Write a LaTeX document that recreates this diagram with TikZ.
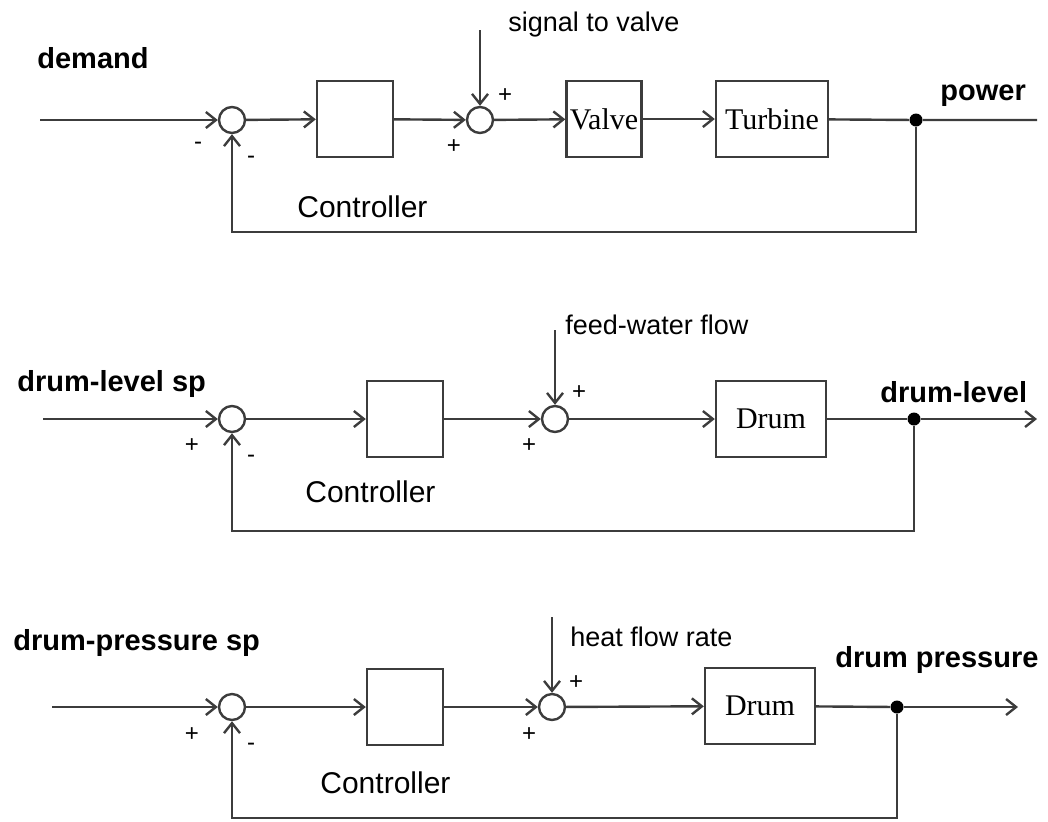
\documentclass[tikz,border=0pt]{standalone}
\usepackage{fontspec}
\setmainfont{Liberation Sans}
\newfontfamily\boxfont{Liberation Serif}
\usetikzlibrary{arrows.meta}
\definecolor{wire}{RGB}{60,60,60}

\begin{document}
\begin{tikzpicture}[x=0.5pt, y=-0.5pt,
    box/.style={draw=wire, line width=1.2pt, minimum width=38pt, minimum height=38pt, inner sep=0pt, font=\boxfont\fontsize{15}{17}\selectfont},
    sum/.style={circle, draw=wire, line width=1.2pt, minimum size=13pt, inner sep=0pt},
    dot/.style={circle, fill=black, minimum size=6.5pt, inner sep=0pt},
    arr/.style={-{Straight Barb[length=5pt,width=8pt]}, line width=1.2pt, color=wire},
    line/.style={line width=1.2pt, color=wire},
    lbl/.style={font=\fontsize{13.5}{16}\selectfont, inner sep=0pt, anchor=west},
    ctl/.style={font=\fontsize{15}{18}\selectfont, inner sep=0pt, anchor=west},
    head/.style={font=\bfseries\fontsize{14.5}{17}\selectfont, inner sep=0pt, anchor=west},
    sgn/.style={font=\fontsize{12}{14}\selectfont, inner sep=0pt}
  ]
    \useasboundingbox (0,0) rectangle (1048,821);

    % power loop
    \coordinate (ina) at (40,120);
    \coordinate (outa) at (1037,120);
    \coordinate (dista) at (480,30);
    \node[sum] (s1a) at (232,120) {};
    \node[box] (ctrla) at (355,119) {};
    \node[sum] (s2a) at (480,120) {};
    \node[box, minimum width=37.5pt] (valve) at (604,119) {Valve};
    \node[box, minimum width=56pt] (turb) at (772,119) {Turbine};
    \node[dot] (pa) at (916,120) {};

    \draw[arr] (ina) -- (s1a);
    \draw[arr] (s1a) -- (ctrla);
    \draw[arr] (ctrla) -- (s2a);
    \draw[arr] (dista) -- (s2a);
    \draw[arr] (s2a) -- (valve);
    \draw[arr] (valve) -- (turb);
    \draw[line] (turb) -- (pa) -- (outa);
    \draw[arr] (pa) -- ++(0,112) -| (s1a);

    \node[head] (dem) at (37,58) {demand};
    \node[head] (pow) at (940,96) {power};
    \node[lbl] (sigv) at (508,25) {signal to valve};
    \node[ctl] (cla) at (297,207) {Controller};
    \node[sgn] at (198,146) {-};
    \node[sgn] at (251,160) {-};
    \node[sgn] at (505,96) {+};
    \node[sgn] at (454,147) {+};

    % drum-level loop
    \coordinate (inb) at (43,419);
    \coordinate (outb) at (1037,419);
    \coordinate (distb) at (555,330);
    \node[sum] (s1b) at (232,419) {};
    \node[box] (ctrlb) at (405,419) {};
    \node[sum] (s2b) at (555,419) {};
    \node[box, minimum width=55pt] (drumb) at (771,419) {Drum};
    \node[dot] (pb) at (914,419) {};

    \draw[arr] (inb) -- (s1b);
    \draw[arr] (s1b) -- (ctrlb);
    \draw[arr] (ctrlb) -- (s2b);
    \draw[arr] (distb) -- (s2b);
    \draw[arr] (s2b) -- (drumb);
    \draw[line] (drumb) -- (pb);
    \draw[arr] (pb) -- (outb);
    \draw[arr] (pb) -- ++(0,112) -| (s1b);

    \node[head] (spb) at (17,384) {drum-level sp};
    \node[head] (lvl) at (880,392) {drum-level};
    \node[lbl] (fwf) at (565,325) {feed-water flow};
    \node[ctl] (clb) at (305,492) {Controller};
    \node[sgn] at (192,446) {+};
    \node[sgn] at (251,459) {-};
    \node[sgn] at (579,393) {+};
    \node[sgn] at (529,446) {+};

    % drum-pressure loop
    \coordinate (inc) at (52,707);
    \coordinate (outc) at (1018,707);
    \coordinate (distc) at (552,617);
    \node[sum] (s1c) at (232,707) {};
    \node[box] (ctrlc) at (405,707) {};
    \node[sum] (s2c) at (552,707) {};
    \node[box, minimum width=55pt] (drumc) at (760,706) {Drum};
    \node[dot] (pc) at (897,707) {};

    \draw[arr] (inc) -- (s1c);
    \draw[arr] (s1c) -- (ctrlc);
    \draw[arr] (ctrlc) -- (s2c);
    \draw[arr] (distc) -- (s2c);
    \draw[arr] (s2c) -- (drumc);
    \draw[line] (drumc) -- (pc);
    \draw[arr] (pc) -- (outc);
    \draw[arr] (pc) -- ++(0,111) -| (s1c);

    \node[head] (spc) at (13,643) {drum-pressure sp};
    \node[head] (prs) at (835,660) {drum pressure};
    \node[lbl] (hfr) at (570,637) {heat flow rate};
    \node[ctl] (clc) at (320,783) {Controller};
    \node[sgn] at (192,735) {+};
    \node[sgn] at (251,747) {-};
    \node[sgn] at (576,683) {+};
    \node[sgn] at (529,735) {+};
  \end{tikzpicture}
\end{document}
